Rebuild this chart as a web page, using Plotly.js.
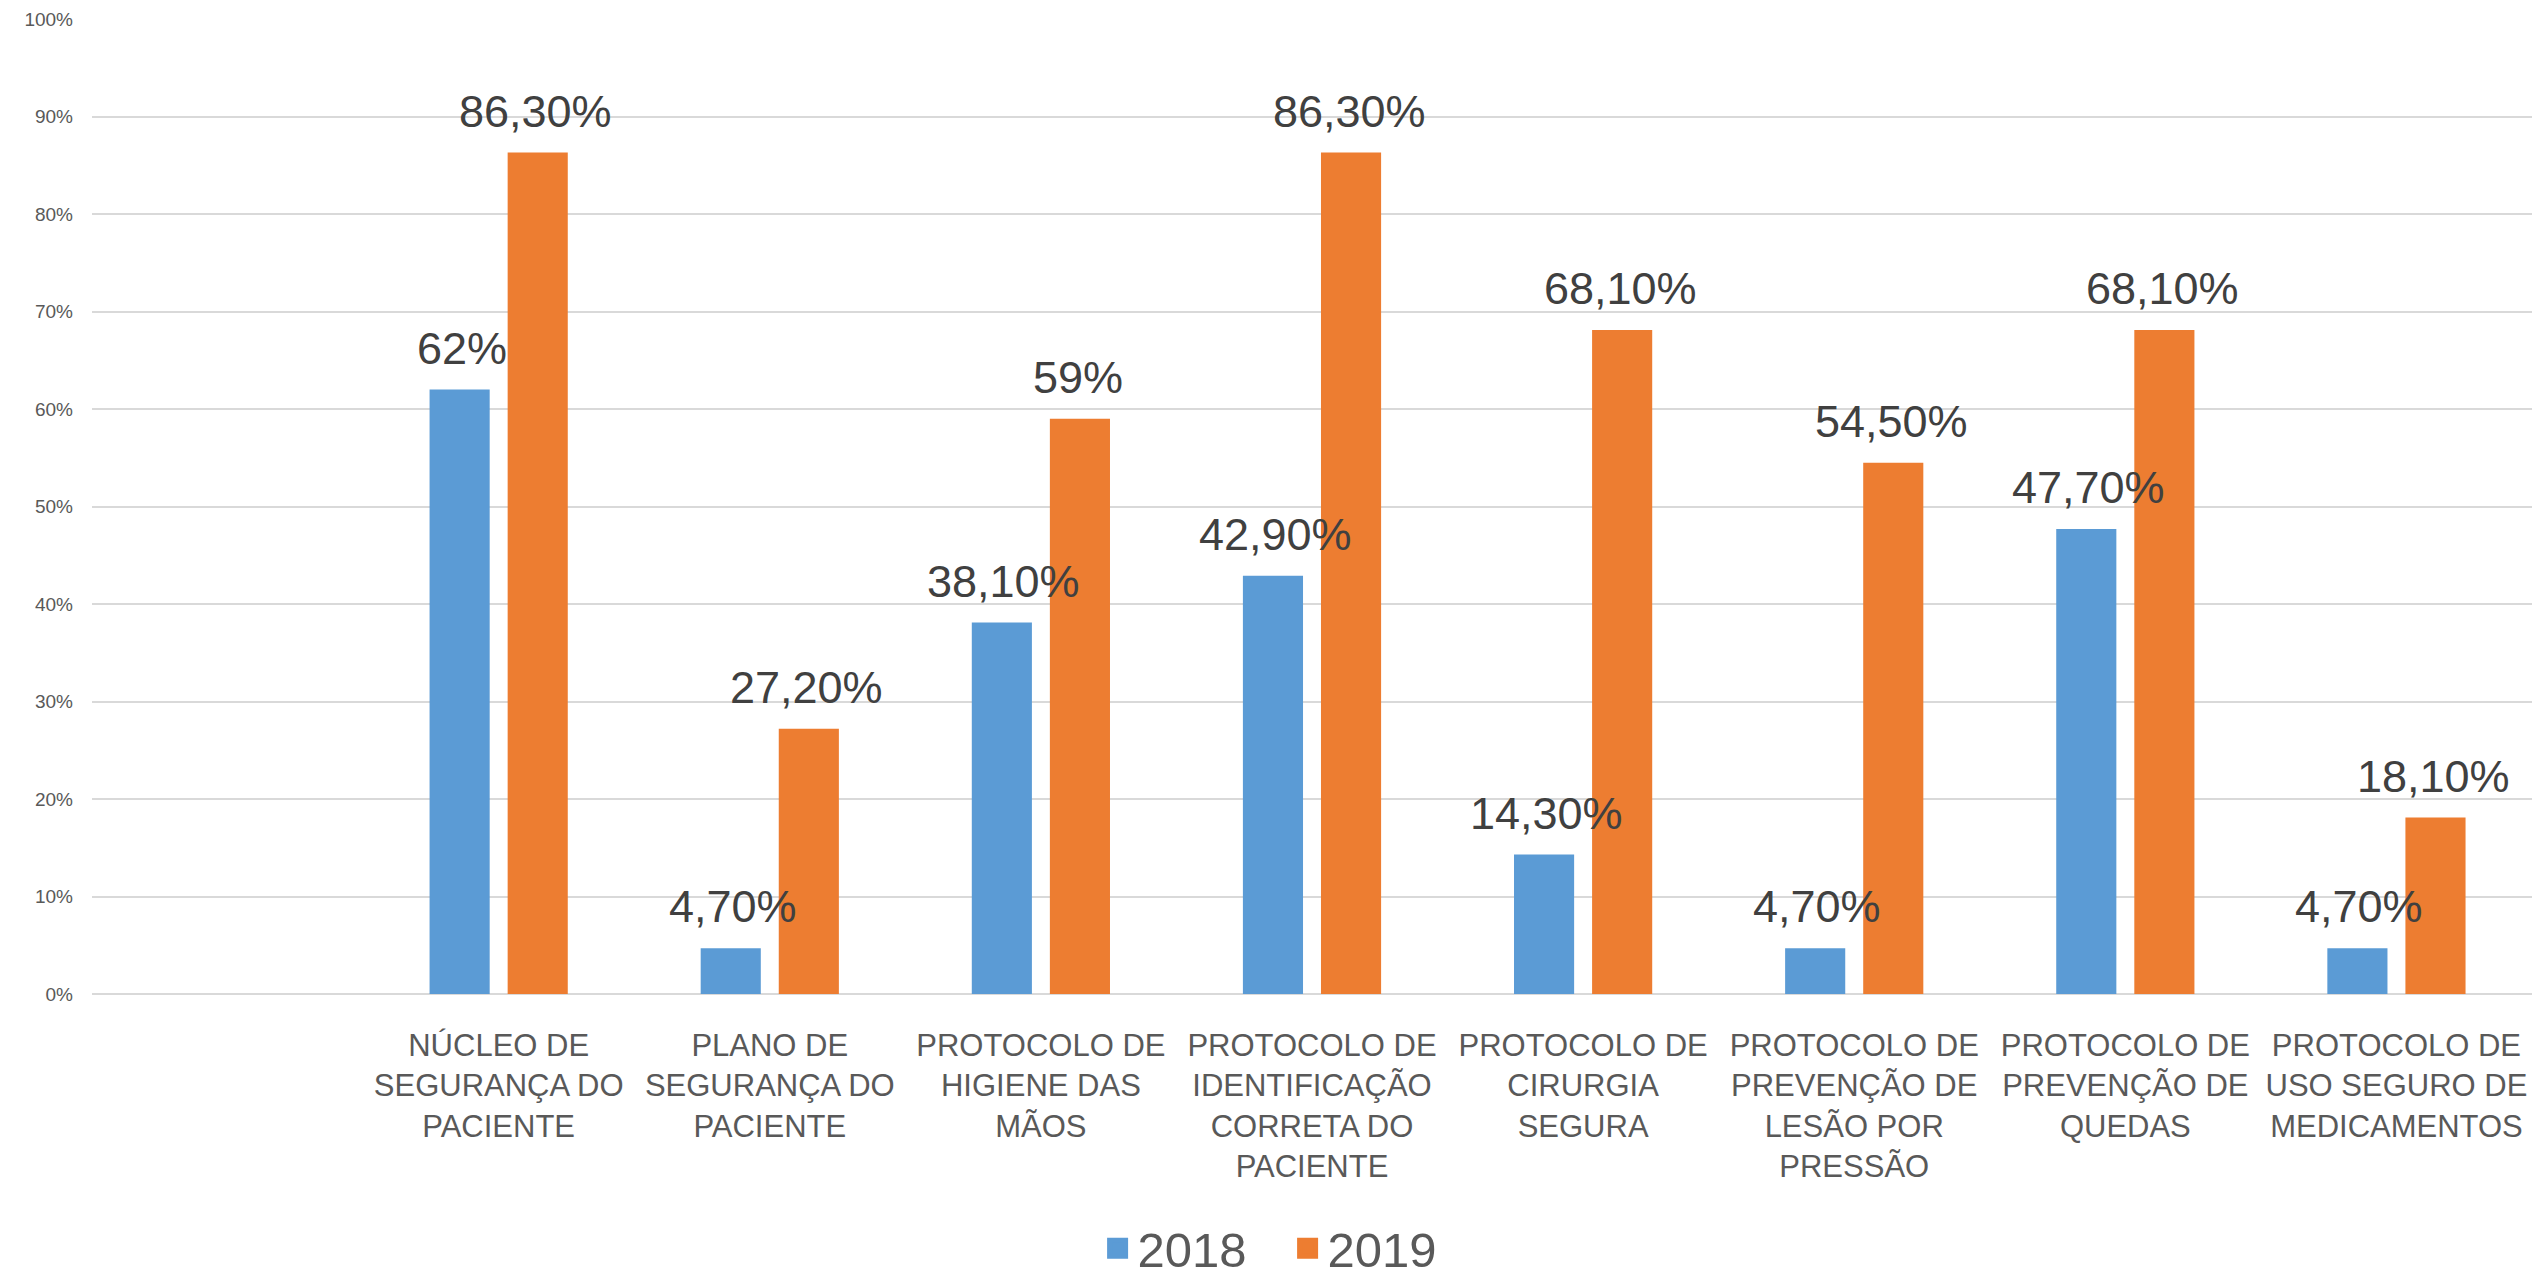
<!DOCTYPE html>
<html>
<head>
<meta charset="utf-8">
<script src="https://cdn.plot.ly/plotly-3.0.1.min.js"></script>
<style>
  html, body { margin: 0; padding: 0; background: #ffffff; }
  #chart { width: 2539px; height: 1279px; }
</style>
</head>
<body>
<div id="chart"></div>
<script>
const categories = [
  "NÚCLEO DE<br>SEGURANÇA DO<br>PACIENTE",
  "PLANO DE<br>SEGURANÇA DO<br>PACIENTE",
  "PROTOCOLO DE<br>HIGIENE DAS<br>MÃOS",
  "PROTOCOLO DE<br>IDENTIFICAÇÃO<br>CORRETA DO<br>PACIENTE",
  "PROTOCOLO DE<br>CIRURGIA<br>SEGURA",
  "PROTOCOLO DE<br>PREVENÇÃO DE<br>LESÃO POR<br>PRESSÃO",
  "PROTOCOLO DE<br>PREVENÇÃO DE<br>QUEDAS",
  "PROTOCOLO DE<br>USO SEGURO DE<br>MEDICAMENTOS"
];
const seriesNames = ["2018", "2019"];
const values2018 = [0.62, 0.047, 0.381, 0.429, 0.143, 0.047, 0.477, 0.047];
const values2019 = [0.863, 0.272, 0.59, 0.863, 0.681, 0.545, 0.681, 0.181];
const yTickVals = [0, 0.1, 0.2, 0.3, 0.4, 0.5, 0.6, 0.7, 0.8, 0.9, 1.0];

const colors = ["#5B9BD5", "#ED7D31"];
const FONT = "'Liberation Sans', Arial, sans-serif";

function fmt(v) {
  const p = Math.round(v * 1000) / 10;
  if (Math.abs(p - Math.round(p)) < 1e-9) return Math.round(p) + "%";
  return p.toFixed(2).replace(".", ",") + "%";
}

const allSeries = [values2018, values2019];
const traces = allSeries.map((vals, i) => ({
  type: "bar",
  name: seriesNames[i],
  x: categories,
  y: vals,
  marker: { color: colors[i], line: { width: 0 } },
  showlegend: false,
  hoverinfo: "x+y"
}));

// legend-only traces for larger square swatches
seriesNames.forEach((n, i) => {
  traces.push({
    type: "scatter",
    mode: "markers",
    name: n,
    x: [null],
    y: [null],
    marker: { symbol: "square", size: 27, color: colors[i], line: { width: 5, color: colors[i] } },
    showlegend: true
  });
});

// data labels drawn on top of all bars
const annotations = [];
allSeries.forEach((vals, i) => {
  vals.forEach((v, j) => {
    annotations.push({
      x: categories[j],
      y: v,
      xref: "x",
      yref: "y",
      text: fmt(v),
      showarrow: false,
      xanchor: "center",
      yanchor: "bottom",
      xshift: i === 0 ? -37 : 37,
      yshift: 14,
      font: { family: FONT, size: 45, color: "#404040" }
    });
  });
});

const layout = {
  width: 2539,
  height: 1279,
  paper_bgcolor: "#ffffff",
  plot_bgcolor: "#ffffff",
  margin: { l: 92, r: 7, t: 19, b: 285, autoexpand: false },
  separators: ",.",
  barmode: "group",
  bargap: 0.424,
  bargroupgap: 0.23,
  showlegend: true,
  legend: {
    orientation: "h",
    x: 0.49,
    xanchor: "center",
    xref: "paper",
    yref: "container",
    y: 0.024,
    yanchor: "middle",
    font: { family: FONT, size: 49, color: "#595959" },
    itemwidth: 30,
    entrywidth: 145,
    entrywidthmode: "pixels",
    tracegroupgap: 0
  },
  xaxis: {
    type: "category",
    range: [-1.5, 7.5],
    automargin: false,
    showgrid: false,
    showline: false,
    zeroline: false,
    ticks: "",
    tickangle: 0,
    ticklabelstandoff: 30,
    tickfont: { family: FONT, size: 31, color: "#595959" },
    fixedrange: true
  },
  yaxis: {
    range: [0, 1],
    automargin: false,
    tickvals: yTickVals,
    tickformat: ".0%",
    showgrid: true,
    gridcolor: "#d9d9d9",
    gridwidth: 2,
    zeroline: true,
    zerolinecolor: "#d9d9d9",
    zerolinewidth: 2,
    showline: false,
    ticks: "",
    ticklabelstandoff: 18,
    tickfont: { family: FONT, size: 19, color: "#595959" },
    fixedrange: true
  },
  annotations: annotations
};

Plotly.newPlot("chart", traces, layout, { displayModeBar: false, staticPlot: true });
</script>
</body>
</html>
